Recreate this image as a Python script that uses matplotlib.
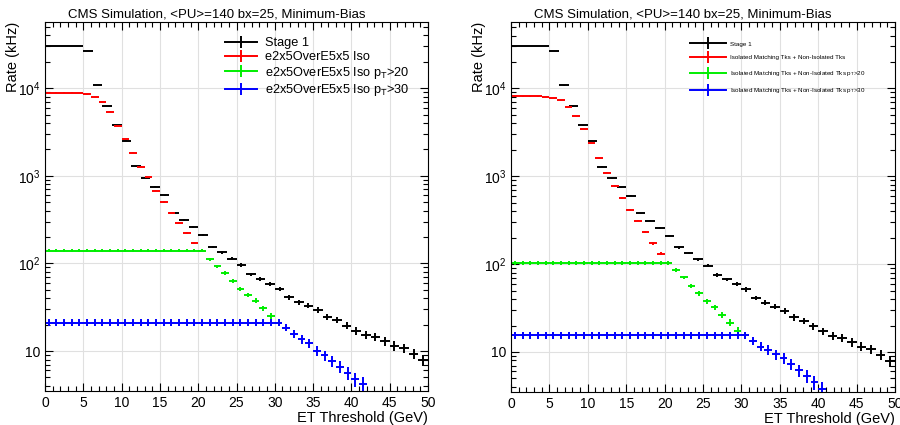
import matplotlib
matplotlib.use('Agg')
import matplotlib.pyplot as plt
import numpy as np
from matplotlib.lines import Line2D
from matplotlib.ticker import MultipleLocator, FixedLocator, FuncFormatter, LogLocator, NullFormatter

plt.rcParams['font.family'] = ['Liberation Sans', 'DejaVu Sans']
plt.rcParams['mathtext.fontset'] = 'custom'
plt.rcParams['mathtext.rm'] = 'Liberation Sans'
plt.rcParams['mathtext.it'] = 'Liberation Sans:italic'

# Stage 1 uses 1.25 GeV bins (0-50), the others 1 GeV bins
stage1_width = 1.25
stage1_rate = [30100, 30100, 30100, 30100, 26500, 10800, 6240, 3800, 2530, 1290,
               948, 750, 598, 378, 313, 258, 209, 155, 134, 113,
               96, 75.2, 67.0, 58.7, 51.5, 41.1, 36.3, 32.9, 29.4, 24.7,
               22.6, 19.5, 17.1, 15.3, 14.4, 12.9, 11.5, 10.8, 9.3, 7.9]

# left panel: e2x5OverE5x5
left_iso = [8930, 8930, 8925, 8910, 8850, 8500, 7960, 6980, 5420, 3715,
            2620, 1830, 1267, 959, 675, 501, 380, 291, 224, 172, 140]
left_pt20 = [140] * 21 + [112, 93.3, 78.3, 63.0, 50.7, 43.6, 37.6, 30.8, 25.1, 21.0]
left_pt30 = [21.1] * 31 + [18.5, 15.7, 13.6, 12.3, 10.1, 8.9, 7.7, 6.6, 5.6, 4.8, 4.2]

# right panel: isolated matching tracks
right_iso = [8110, 8110, 8110, 8100, 8050, 7800, 7300, 6120, 4830, 3470,
             2380, 1600, 1100, 775, 565, 417, 313, 230, 172, 132, 103]
right_pt20 = [103] * 21 + [85.5, 70.5, 56.7, 46.4, 37.6, 32.1, 26.3, 21.6, 17.4, 15.5]
right_pt30 = [15.5] * 31 + [13.3, 11.5, 10.6, 9.4, 8.5, 7.3, 6.2, 5.3, 4.5, 3.8]

left_labels = ['Stage 1', 'e2x5OverE5x5 Iso',
               r'e2x5OverE5x5 Iso p$_{\mathrm{T}}$>20',
               r'e2x5OverE5x5 Iso p$_{\mathrm{T}}$>30']
right_labels = ['Stage 1', 'Isolated Matching Tks + Non-Isolated Tks',
                r'Isolated Matching Tks + Non-Isolated Tks p$_{\mathrm{T}}$>20',
                r'Isolated Matching Tks + Non-Isolated Tks p$_{\mathrm{T}}$>30']

colors = ['black', '#ff0000', '#00ee00', '#0000ff']
title = 'CMS Simulation, <PU>=140 bx=25, Minimum-Bias'
count_scale = 0.16  # kHz per event, for the poisson error bars


def draw_hist(ax, rates, width, color):
    rates = np.array(rates, dtype=float)
    x = (np.arange(len(rates)) + 0.5) * width
    err = np.sqrt(rates * count_scale)
    ax.errorbar(x, rates, xerr=width / 2, yerr=err, fmt='none',
                ecolor=color, elinewidth=1.4, capsize=0)


def draw_panel(ax, series, labels, leg_fs, handle_len, spacing, leg_x, leg_y):
    draw_hist(ax, stage1_rate, stage1_width, colors[0])
    for rates, c in zip(series, colors[1:]):
        draw_hist(ax, rates, 1.0, c)

    ax.set_yscale('log')
    ax.set_xlim(0, 50)
    ax.set_ylim(3.5, 5.7e4)
    ax.xaxis.set_major_locator(MultipleLocator(5))
    ax.xaxis.set_minor_locator(MultipleLocator(1))
    ax.yaxis.set_major_locator(FixedLocator([10, 100, 1000, 10000]))
    ax.yaxis.set_minor_locator(LogLocator(base=10, subs=np.arange(2, 10)))
    ax.yaxis.set_minor_formatter(NullFormatter())
    ax.yaxis.set_major_formatter(FuncFormatter(
        lambda v, p: '10' if v == 10 else r'$10^{%d}$' % int(round(np.log10(v)))))
    ax.tick_params(which='both', direction='in', top=True, right=True, labelsize=10)
    ax.tick_params(which='major', length=6, width=0.8)
    ax.tick_params(which='minor', length=3.5, width=0.8)
    ax.grid(True, which='major', color='#e0e0e0', lw=0.8)
    ax.set_axisbelow(True)

    ax.set_xlabel('ET Threshold (GeV)', loc='right', fontsize=10.5, labelpad=1)
    ax.set_ylabel('Rate (kHz)', loc='top', fontsize=10.5)
    ax.yaxis.set_label_coords(-0.066, 1.0)

    handles = [Line2D([0], [0], color=c, lw=1.4, marker='|', ms=8, mew=1.4)
               for c in colors]
    ax.legend(handles, labels, loc='upper left', bbox_to_anchor=(leg_x, leg_y),
              frameon=False, fontsize=leg_fs, handlelength=handle_len,
              handletextpad=0.6, labelspacing=spacing, borderpad=0, borderaxespad=0)


fig = plt.figure(figsize=(9, 4.25), dpi=100)
ax1 = fig.add_axes([45 / 900, 34 / 425, 383 / 900, 369 / 425])
ax2 = fig.add_axes([511 / 900, 33 / 425, 384 / 900, 370 / 425])

draw_panel(ax1, [left_iso, left_pt20, left_pt30], left_labels, 9.2, 2.5, 0.12, 0.47, 0.958)
draw_panel(ax2, [right_iso, right_pt20, right_pt30], right_labels, 4.5, 5.8, 1.35, 0.466, 0.948)

fig.text(217 / 900, 1 - 14.5 / 425, title, ha='center', va='center', fontsize=9.5)
fig.text(683 / 900, 1 - 14.5 / 425, title, ha='center', va='center', fontsize=9.5)

fig.savefig('out.png', dpi=100)
